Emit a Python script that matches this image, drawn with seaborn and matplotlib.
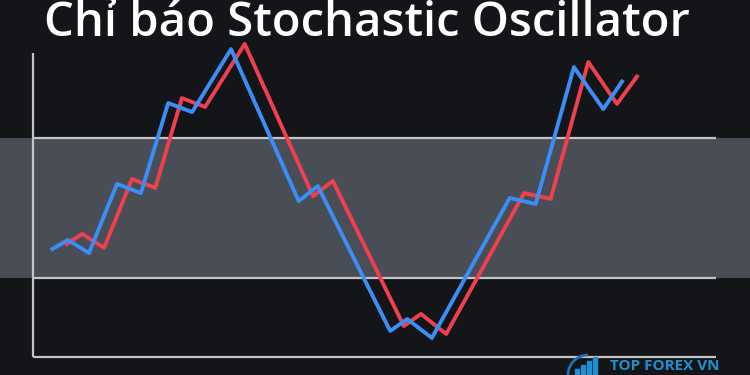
import matplotlib
matplotlib.use("Agg")
import matplotlib.pyplot as plt
import matplotlib.patches as mpatches
import seaborn as sns
import pandas as pd

# --- data (time on 0..100 scale, oscillator value with band 20..80) ---
k_time = [2.6, 5.1, 8.2, 12.3, 15.8, 19.8, 23.3, 29.0, 38.9, 41.7,
          52.3, 54.8, 58.4, 69.8, 73.6, 79.2, 83.5, 86.4]
k_value = [32.0, 36.3, 30.7, 60.3, 56.4, 95.0, 91.1, 118.1, 53.0, 59.4,
           -2.7, 2.4, -5.7, 54.3, 51.7, 110.4, 92.4, 104.9]
d_time = [4.7, 7.2, 10.4, 14.5, 17.9, 21.8, 25.2, 31.0, 41.0, 43.9,
          54.3, 56.8, 60.5, 71.9, 75.8, 81.3, 85.5, 88.6]
d_value = [34.1, 38.9, 32.9, 62.4, 58.6, 97.1, 93.3, 120.3, 55.1, 61.6,
           -0.6, 4.6, -4.0, 56.4, 53.9, 112.6, 94.6, 107.0]
band_low, band_high = 20, 80
title = "Chỉ báo Stochastic Oscillator"
brand = "TOP FOREX VN"

bg = "#141519"
band_col = "#494d55"
axis_col = "#c4c4c4"
blue = "#3a8ef6"
red = "#f0404f"

sns.set_theme(style="dark")
plt.rcParams["font.family"] = ["Open Sans", "DejaVu Sans"]

fig = plt.figure(figsize=(7.5, 3.75), dpi=100, facecolor=bg)
ax = fig.add_axes([0, 0, 1, 1])
ax.set_facecolor(bg)
for s in ax.spines.values():
    s.set_visible(False)
ax.set_xticks([]); ax.set_yticks([])
ax.grid(False)

# band
ax.axhspan(band_low, band_high, color=band_col, zorder=0, lw=0)
ax.hlines([band_low, band_high], 0, 100, color=axis_col, lw=1.6, zorder=1)
# axes frame
ax.hlines(-13.86, 0, 100, color=axis_col, lw=1.6, zorder=1)
ax.vlines(0, -13.86, 116.4, color=axis_col, lw=1.6, zorder=1)

df_d = pd.DataFrame({"t": d_time, "v": d_value})
df_k = pd.DataFrame({"t": k_time, "v": k_value})
sns.lineplot(data=df_d, x="t", y="v", sort=False, color=red, lw=2.8, ax=ax,
             solid_joinstyle="round", solid_capstyle="butt", zorder=3)
sns.lineplot(data=df_k, x="t", y="v", sort=False, color=blue, lw=2.8, ax=ax,
             solid_joinstyle="round", solid_capstyle="butt", zorder=4)
ax.set_xlabel(""); ax.set_ylabel("")
ax.set_xlim(-4.83, 104.98)
ax.set_ylim(-21.57, 139.14)

fig.text(0.489, 1 - 36 / 375, title, ha="center", va="baseline",
         color="white", fontsize=34, fontweight="semibold")

# brand mark (bottom right)
fig.text(610 / 750, 2 / 375, brand, ha="left", va="bottom",
         color="#1e8fd0", fontsize=11, fontweight="bold")
for i, h in enumerate([6, 10, 14, 18]):
    fig.patches.append(mpatches.Rectangle(((575 + i * 6) / 750, 0), 4 / 750, h / 375,
                                          transform=fig.transFigure,
                                          color="#1e8fd0", zorder=5))
fig.patches.append(mpatches.Arc((588 / 750, 0), 40 / 750, 40 / 375, theta1=90, theta2=200,
                                transform=fig.transFigure, color="#1e6fb0", lw=2))

fig.savefig("out.png", dpi=100, facecolor=bg)
